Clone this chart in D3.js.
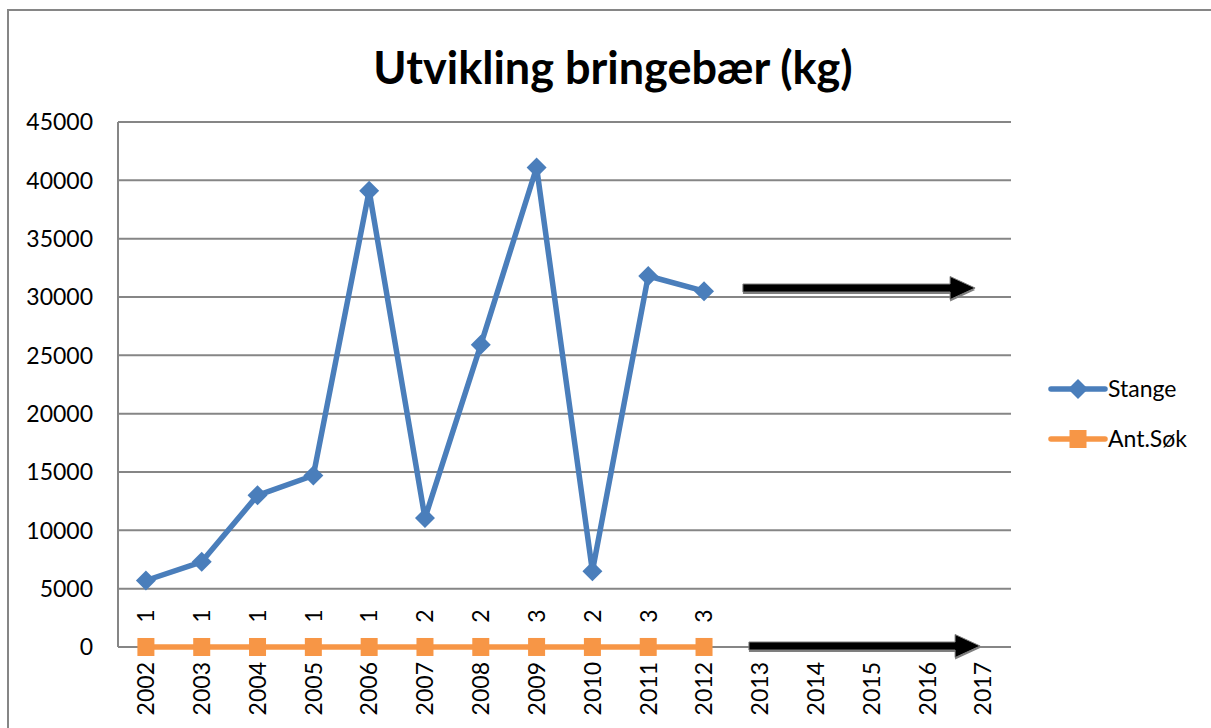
<!DOCTYPE html>
<html>
<head>
<meta charset="utf-8">
<script src="https://cdn.jsdelivr.net/npm/d3@7"></script>
<style>
  body { margin: 0; background: #fff; }
  text { font-family: Lato, "Open Sans", sans-serif; fill: #000; }
</style>
</head>
<body>
<div id="chart"></div>
<script>
const width = 1211;
const height = 728;

const years = ["2002", "2003", "2004", "2005", "2006", "2007", "2008", "2009",
  "2010", "2011", "2012", "2013", "2014", "2015", "2016", "2017"];
const stange = [5700, 7300, 13000, 14700, 39100, 11050, 25900, 41100, 6500, 31800, 30500];
const antSok = [1, 1, 1, 1, 1, 2, 2, 3, 2, 3, 3];
const yTicks = [0, 5000, 10000, 15000, 20000, 25000, 30000, 35000, 40000, 45000];
const seriesNames = ["Stange", "Ant.Søk"];

const blue = "#4A7EBB";
const orange = "#F79646";
const grid = "#868686";

const svg = d3.select("#chart")
  .append("svg")
  .attr("width", width)
  .attr("height", height);

// chart border
svg.append("rect")
  .attr("x", 8).attr("y", 10)
  .attr("width", width + 20).attr("height", height + 20)
  .attr("fill", "none")
  .attr("stroke", grid)
  .attr("stroke-width", 2);

const x = d3.scaleBand().domain(years).range([118, 1011]);
const y = d3.scaleLinear().domain([0, 45000]).range([647, 122]);
const cx = d => x(d) + x.bandwidth() / 2;

// title
svg.append("text")
  .attr("x", 613).attr("y", 84)
  .attr("text-anchor", "middle")
  .style("font-size", "45px")
  .style("font-weight", "bold")
  .text("Utvikling bringebær (kg)");

// gridlines
svg.append("g")
  .selectAll("line")
  .data(yTicks)
  .enter()
  .append("line")
  .attr("x1", 118).attr("x2", 1011)
  .attr("y1", d => y(d)).attr("y2", d => y(d))
  .attr("stroke", grid)
  .attr("stroke-width", 2);

// y axis line
svg.append("line")
  .attr("x1", 118).attr("x2", 118)
  .attr("y1", y(45000)).attr("y2", y(0))
  .attr("stroke", grid).attr("stroke-width", 2);

// y tick labels
svg.append("g")
  .selectAll("text")
  .data(yTicks)
  .enter()
  .append("text")
  .attr("x", 93)
  .attr("y", d => y(d))
  .attr("dy", "0.36em")
  .attr("text-anchor", "end")
  .style("font-size", "23px")
  .text(d => d);

// x tick labels
svg.append("g")
  .selectAll("text")
  .data(years)
  .enter()
  .append("text")
  .attr("transform", d => `translate(${cx(d)},${y(0) + 15}) rotate(-90)`)
  .attr("dy", "0.36em")
  .attr("text-anchor", "end")
  .style("font-size", "23px")
  .text(d => d);

// series
const line = d3.line().x(d => cx(d.year)).y(d => y(d.v));
const stangeData = stange.map((v, i) => ({ year: years[i], v }));
const antData = antSok.map((v, i) => ({ year: years[i], v, label: v }));

svg.append("path")
  .datum(stangeData)
  .attr("d", line)
  .attr("fill", "none")
  .attr("stroke", blue)
  .attr("stroke-width", 5.5)
  .attr("stroke-linejoin", "round");

const diamond = "M0,-10L10,0L0,10L-10,0Z";
svg.append("g")
  .selectAll("path")
  .data(stangeData)
  .enter()
  .append("path")
  .attr("d", diamond)
  .attr("transform", d => `translate(${cx(d.year)},${y(d.v)})`)
  .attr("fill", blue);

// Ant.Søk is plotted in kg scale (values near zero)
svg.append("path")
  .datum(antData)
  .attr("d", line)
  .attr("fill", "none")
  .attr("stroke", orange)
  .attr("stroke-width", 5.5);

svg.append("g")
  .selectAll("rect")
  .data(antData)
  .enter()
  .append("rect")
  .attr("x", d => cx(d.year) - 8.5)
  .attr("y", d => y(d.v) - 9)
  .attr("width", 17).attr("height", 18)
  .attr("fill", orange);

// data labels
svg.append("g")
  .selectAll("text")
  .data(antData)
  .enter()
  .append("text")
  .attr("transform", d => `translate(${cx(d.year)},${y(d.v) - 31}) rotate(-90)`)
  .attr("dy", "0.36em")
  .attr("text-anchor", "middle")
  .style("font-size", "23px")
  .text(d => d.label);

// arrows
function arrow(x1, x2, yc) {
  const t = 4, hw = 25, hh = 11.5;
  return `M${x1},${yc - t}L${x2 - hw},${yc - t}L${x2 - hw},${yc - hh}L${x2},${yc}` +
    `L${x2 - hw},${yc + hh}L${x2 - hw},${yc + t}L${x1},${yc + t}Z`;
}
const arrows = [
  { x1: x("2013") + 11, x2: cx("2017") - 8, yc: y(30770) },
  { x1: x("2013") + 17, x2: cx("2017") - 3, yc: y(0) - 1 }
];
arrows.forEach(a => {
  svg.append("path")
    .attr("d", arrow(a.x1, a.x2, a.yc + 2))
    .attr("fill", "#7f7f7f");
  svg.append("path")
    .attr("d", arrow(a.x1, a.x2, a.yc))
    .attr("fill", "#000")
    .attr("stroke", "#7f7f7f")
    .attr("stroke-width", 1);
});

// legend
const legend = svg.append("g");
const legendY = [389, 439];
seriesNames.forEach((name, i) => {
  const g = legend.append("g").attr("transform", `translate(0,${legendY[i]})`);
  const col = i === 0 ? blue : orange;
  g.append("line")
    .attr("x1", 1051).attr("x2", 1105)
    .attr("stroke", col).attr("stroke-width", 5.5)
    .attr("stroke-linecap", "round");
  if (i === 0) {
    g.append("path").attr("d", diamond).attr("transform", "translate(1078,0)").attr("fill", col);
  } else {
    g.append("rect").attr("x", 1069.5).attr("y", -9).attr("width", 17).attr("height", 18).attr("fill", col);
  }
  g.append("text")
    .attr("x", 1108).attr("dy", "0.36em")
    .style("font-size", "23px")
    .text(name);
});
</script>
</body>
</html>
